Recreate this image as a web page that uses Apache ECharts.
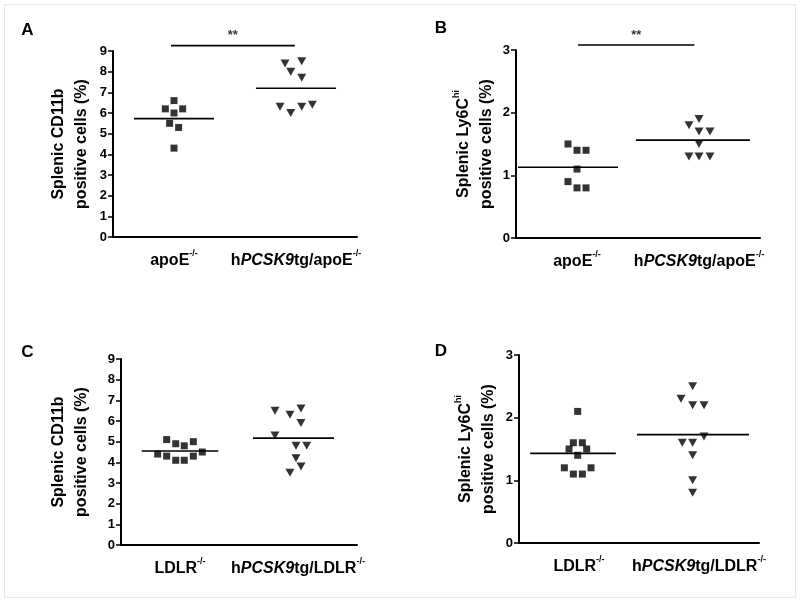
<!DOCTYPE html>
<html><head><meta charset="utf-8">
<script src="https://cdn.jsdelivr.net/npm/echarts@6/dist/echarts.min.js"></script>
<style>html,body{margin:0;padding:0;background:#fff}#c{width:800px;height:602px}</style>
</head><body><div id="c"></div>
<script>
// ---------- data ----------
const catsApoE = ['apoE{s|-/-}', 'h{i|PCSK9}tg/apoE{s|-/-}'];
const catsLDLR = ['LDLR{s|-/-}', 'h{i|PCSK9}tg/LDLR{s|-/-}'];
const titleCD11b = 'Splenic CD11b\npositive cells (%)';
const titleLy6C = 'Splenic Ly6C{s|hi}\npositive cells (%)';
const panelLetters = ['A', 'B', 'C', 'D'];
const sigText = '**';

// values (%)
const A_apoE = [6.6, 6.2, 6.2, 6.0, 5.5, 5.3, 4.3];
const A_tg   = [8.4, 8.5, 8.0, 7.7, 6.3, 6.0, 6.3, 6.4];
const B_apoE = [1.5, 1.4, 1.4, 1.1, 0.9, 0.8, 0.8];
const B_tg   = [1.9, 1.8, 1.7, 1.7, 1.5, 1.3, 1.3, 1.3];
const C_ldlr = [5.1, 4.9, 4.8, 5.0, 4.4, 4.3, 4.1, 4.1, 4.3, 4.5];
const C_tg   = [6.5, 6.3, 6.6, 5.9, 5.3, 4.8, 4.8, 4.2, 3.8, 3.5];
const D_ldlr = [2.1, 1.6, 1.6, 1.5, 1.5, 1.4, 1.2, 1.2, 1.1, 1.1];
const D_tg   = [2.5, 2.3, 2.2, 2.2, 1.7, 1.6, 1.6, 1.4, 1.0, 0.8];

// horizontal scatter jitter (fraction of a category band)
const A_jit1 = [0, -0.071, 0.071, 0, -0.036, 0.038, 0];
const A_jit2 = [-0.09, 0.047, -0.043, 0.047, -0.131, -0.043, 0.047, 0.134];
const B_jit1 = [-0.074, 0, 0.074, 0, -0.074, 0, 0.074];
const B_jit2 = [0, -0.082, 0, 0.09, 0, -0.082, 0, 0.09];
const C_jit1 = [-0.113, -0.036, 0.036, 0.113, -0.189, -0.113, -0.036, 0.036, 0.113, 0.189];
const C_jit2 = [-0.195, -0.068, 0.025, 0.025, -0.195, -0.017, 0.074, -0.017, 0.025, -0.068];
const D_jit1 = [-0.011, -0.047, 0.028, -0.083, 0.064, -0.011, -0.122, 0.1, -0.047, 0.028];
const D_jit2 = [-0.053, -0.15, -0.053, 0.042, 0.042, -0.139, -0.053, -0.053, -0.053, -0.053];

// ---------- layout / style ----------
const FONT = 'Liberation Sans, Arial, Helvetica, sans-serif';
const grids = [
  {left: 113, top: 51, width: 244, height: 186},
  {left: 516, top: 50, width: 244, height: 188},
  {left: 121, top: 359, width: 236, height: 186},
  {left: 519, top: 355, width: 240, height: 188}
];
const letterPos = [[27.5, 30], [441, 28], [27.5, 352.5], [441, 351.5]];
const nameGaps = [20, 18, 28, 19];
// mean-line geometry [centre offset, half width] in band units
const meanGeom = [
  [[0, 0.328], [0, 0.328]],
  [[-0.074, 0.41], [-0.05, 0.467]],
  [[0, 0.325], [-0.038, 0.343]],
  [[-0.05, 0.357], [-0.05, 0.467]]
];
const panels = [
  {cats: catsApoE, title: titleCD11b, max: 9, g1: A_apoE, g2: A_tg, j1: A_jit1, j2: A_jit2, sig: {x1: 0.475, x2: 1.49, y: 9.26}},
  {cats: catsApoE, title: titleLy6C, max: 3, g1: B_apoE, g2: B_tg, j1: B_jit1, j2: B_jit2, sig: {x1: 0.508, x2: 1.463, y: 3.08}},
  {cats: catsLDLR, title: titleCD11b, max: 9, g1: C_ldlr, g2: C_tg, j1: C_jit1, j2: C_jit2},
  {cats: catsLDLR, title: titleLy6C, max: 3, g1: D_ldlr, g2: D_tg, j1: D_jit1, j2: D_jit2}
];

const mean = a => a.reduce((s, v) => s + v, 0) / a.length;
const supStyle = {fontSize: 9, fontWeight: 'bold', fontFamily: FONT, color: '#000', verticalAlign: 'top', lineHeight: 23};
const itStyle = {fontSize: 16, fontWeight: 'bold', fontStyle: 'italic', fontFamily: FONT, color: '#000', lineHeight: 23};

const xAxis = [], yAxis = [], series = [], graphic = [];
panels.forEach((p, i) => {
  xAxis.push({
    gridIndex: i, type: 'category', data: p.cats, boundaryGap: true,
    axisLine: {lineStyle: {color: '#000', width: 2}},
    axisTick: {show: false},
    axisLabel: {
      interval: 0, hideOverlap: false,
      margin: 12, color: '#000', fontSize: 16, fontWeight: 'bold', fontFamily: FONT, lineHeight: 23,
      rich: {s: Object.assign({}, supStyle), i: Object.assign({}, itStyle)}
    }
  });
  xAxis.push({gridIndex: i, type: 'value', min: 0, max: 2, show: false});
  yAxis.push({
    gridIndex: i, type: 'value', min: 0, max: p.max, interval: 1,
    name: p.title, nameLocation: 'middle', nameRotate: 90, nameGap: nameGaps[i],
    nameTextStyle: {
      color: '#000', fontSize: 16, fontWeight: 'bold', fontFamily: FONT, lineHeight: 23, align: 'center',
      rich: {s: Object.assign({}, supStyle)}
    },
    axisLine: {show: true, lineStyle: {color: '#000', width: 2}},
    axisTick: {show: true, length: 5, lineStyle: {color: '#000', width: 1.5}},
    axisLabel: {margin: 6, color: '#000', fontSize: 13, fontWeight: 'bold', fontFamily: FONT},
    splitLine: {show: false}
  });
  const xi = i * 2 + 1;
  series.push({
    type: 'scatter', xAxisIndex: xi, yAxisIndex: i, symbol: 'rect', symbolSize: 7,
    itemStyle: {color: '#000'}, silent: true,
    data: p.g1.map((v, k) => [0.5 + p.j1[k], v])
  });
  series.push({
    type: 'scatter', xAxisIndex: xi, yAxisIndex: i, symbol: 'triangle', symbolRotate: 180, symbolSize: [9, 8],
    itemStyle: {color: '#000'}, silent: true,
    data: p.g2.map((v, k) => [1.5 + p.j2[k], v])
  });
  [p.g1, p.g2].forEach((g, gi) => {
    const m = mean(g), c = 0.5 + gi + meanGeom[i][gi][0], hw = meanGeom[i][gi][1];
    series.push({
      type: 'line', xAxisIndex: xi, yAxisIndex: i, symbol: 'none', silent: true,
      lineStyle: {color: '#000', width: 1.6},
      data: [[c - hw, m], [c + hw, m]]
    });
  });
  if (p.sig) {
    series.push({
      type: 'line', xAxisIndex: xi, yAxisIndex: i, symbol: 'none', silent: true, clip: false,
      lineStyle: {color: '#000', width: 1.6},
      data: [[p.sig.x1, p.sig.y], [p.sig.x2, p.sig.y]]
    });
    series.push({
      type: 'scatter', xAxisIndex: xi, yAxisIndex: i, symbolSize: 1, clip: false, silent: true,
      itemStyle: {color: 'rgba(0,0,0,0)'},
      label: {show: true, position: 'top', distance: 3, formatter: sigText, color: '#000', fontSize: 13, fontWeight: 'bold', fontFamily: FONT},
      data: [[(p.sig.x1 + p.sig.x2) / 2, p.sig.y]]
    });
  }
  graphic.push({
    type: 'text', x: letterPos[i][0], y: letterPos[i][1],
    style: {text: panelLetters[i], fill: '#000', fontSize: 17, fontWeight: 'bold', fontFamily: FONT, textAlign: 'center', textVerticalAlign: 'middle'}
  });
});

graphic.push({type: 'rect', shape: {x: 4.5, y: 4.5, width: 791, height: 593}, style: {fill: 'none', stroke: '#e6e6e6', lineWidth: 1}, z: -1});

const chart = echarts.init(document.getElementById('c'), null, {renderer: 'canvas'});
chart.setOption({
  animation: false,
  backgroundColor: '#fff',
  grid: grids.map(g => Object.assign({containLabel: false}, g)),
  xAxis, yAxis, series, graphic
});
</script></body></html>
